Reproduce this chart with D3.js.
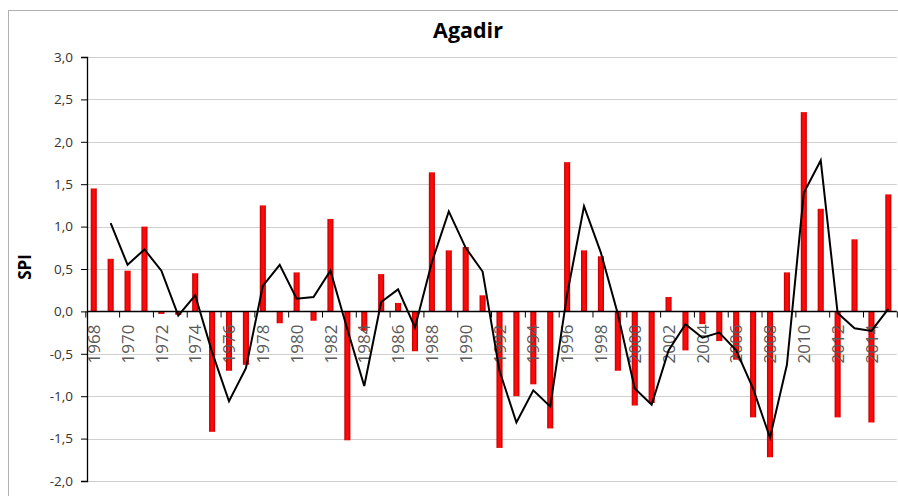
<!DOCTYPE html>
<html>
<head>
<meta charset="utf-8">
<script src="https://cdn.jsdelivr.net/npm/d3@7"></script>
<style>
  html, body { margin: 0; padding: 0; background: #fff; }
  svg { display: block; }
</style>
</head>
<body>
<svg id="chart" width="898" height="496"></svg>
<script>
// ---- data ----
const years = [1968,1969,1970,1971,1972,1973,1974,1975,1976,1977,
               1978,1979,1980,1981,1982,1983,1984,1985,1986,1987,
               1988,1989,1990,1991,1992,1993,1994,1995,1996,1997,
               1998,1999,2000,2001,2002,2003,2004,2005,2006,2007,
               2008,2009,2010,2011,2012,2013,2014,2015];
const spi = [1.45,0.62,0.48,1.00,-0.03,-0.04,0.45,-1.42,-0.70,-0.63,
             1.25,-0.14,0.46,-0.11,1.09,-1.52,-0.23,0.44,0.10,-0.47,
             1.64,0.72,0.76,0.19,-1.61,-1.00,-0.86,-1.38,1.76,0.72,
             0.65,-0.70,-1.11,-1.08,0.17,-0.46,-0.15,-0.35,-0.57,-1.25,
             -1.72,0.46,2.35,1.21,-1.25,0.85,-1.31,1.38];
// trend line (2-period moving average)
const trendYears = [1969,1970,1971,1972,1973,1974,1975,1976,1977,1978,
                    1979,1980,1981,1982,1983,1984,1985,1986,1987,1988,
                    1989,1990,1991,1992,1993,1994,1995,1996,1997,1998,
                    1999,2000,2001,2002,2003,2004,2005,2006,2007,2008,
                    2009,2010,2011,2012,2013,2014,2015];
const trend = [1.04,0.55,0.73,0.48,-0.05,0.19,-0.48,-1.06,-0.67,0.30,
               0.55,0.15,0.17,0.48,-0.21,-0.88,0.11,0.26,-0.19,0.58,
               1.18,0.75,0.47,-0.70,-1.31,-0.93,-1.12,0.20,1.24,0.69,
               -0.03,-0.91,-1.10,-0.46,-0.15,-0.31,-0.25,-0.46,-0.91,-1.49,
               -0.63,1.40,1.78,-0.02,-0.20,-0.23,0.03];
const yTicks = [-2.0,-1.5,-1.0,-0.5,0.0,0.5,1.0,1.5,2.0,2.5,3.0];
const xTickLabels = [1968,1970,1972,1974,1976,1978,1980,1982,1984,1986,1988,1990,
                     1992,1994,1996,1998,2000,2002,2004,2006,2008,2010,2012,2014];
const title = "Agadir";
const yTitle = "SPI";

// ---- layout ----
const svg = d3.select("#chart");
const plotLeft = 87, plotRight = 896.8, plotTop = 57, plotBottom = 481;

const x = d3.scaleBand().domain(years).range([85.3, 896.8])
  .paddingInner(0.64).paddingOuter(0.32);
const y = d3.scaleLinear().domain([-2, 3]).range([plotBottom, plotTop]);
const cx = d => x(d) + x.bandwidth() / 2;

// outer chart border
svg.append("rect").attr("x", 8.5).attr("y", 10.5).attr("width", 1000).attr("height", 1000)
  .attr("fill", "none").attr("stroke", "#b0b0b0").attr("stroke-width", 1);

// gradient for bars
const defs = svg.append("defs");
const grad = defs.append("linearGradient").attr("id", "barGrad")
  .attr("x1", "0%").attr("x2", "100%").attr("y1", "0%").attr("y2", "0%");
grad.append("stop").attr("offset", "0%").attr("stop-color", "#b80000");
grad.append("stop").attr("offset", "35%").attr("stop-color", "#ff0a0a");
grad.append("stop").attr("offset", "65%").attr("stop-color", "#ff0a0a");
grad.append("stop").attr("offset", "100%").attr("stop-color", "#b80000");

// gridlines
svg.append("g").selectAll("line").data(yTicks.filter(v => v !== 0)).join("line")
  .attr("x1", plotLeft).attr("x2", plotRight)
  .attr("y1", d => Math.round(y(d)) + 0.5).attr("y2", d => Math.round(y(d)) + 0.5)
  .attr("stroke", "#cfcfcf").attr("stroke-width", 1.2);

// y axis
const yAxis = d3.axisLeft(y).tickValues(yTicks).tickSize(6).tickPadding(8)
  .tickFormat(d => d3.format(".1f")(d).replace(".", ",").replace("−", "-"));
const gy = svg.append("g").attr("transform", `translate(${plotLeft},0)`).call(yAxis);
gy.select(".domain").attr("stroke", "#000").attr("stroke-width", 1.3);
gy.selectAll(".tick line").attr("stroke", "#000");
gy.selectAll(".tick text").attr("font-family", "'Open Sans', sans-serif")
  .attr("font-size", "13.5px").attr("fill", "#333");

// bars
svg.append("g").selectAll("rect").data(years).join("rect")
  .attr("x", d => x(d))
  .attr("width", x.bandwidth())
  .attr("y", (d, i) => y(Math.max(0, spi[i])))
  .attr("height", (d, i) => Math.abs(y(spi[i]) - y(0)))
  .attr("fill", "url(#barGrad)");

// x axis line at 0
const zeroY = Math.round(y(0)) + 0.5;
svg.append("line").attr("x1", plotLeft).attr("x2", plotRight)
  .attr("y1", zeroY).attr("y2", zeroY).attr("stroke", "#000").attr("stroke-width", 1.3);

// x tick marks every 2 categories (at band boundaries)
const step = x.step();
const boundaryIdx = d3.range(0, years.length + 1, 2);
svg.append("g").selectAll("line").data(boundaryIdx).join("line")
  .attr("x1", i => 85.3 + i * step + 0.5).attr("x2", i => 85.3 + i * step + 0.5)
  .attr("y1", zeroY).attr("y2", zeroY + 6)
  .attr("stroke", "#000").attr("stroke-width", 1);

// x labels (rotated)
svg.append("g").selectAll("text").data(xTickLabels).join("text")
  .attr("transform", d => `translate(${cx(d)},${zeroY + 13}) rotate(-90)`)
  .attr("text-anchor", "end").attr("dy", "0.36em")
  .attr("font-family", "'Open Sans', sans-serif").attr("font-size", "17px")
  .attr("fill", "#5a5a5a")
  .text(d => d);

// trend line
const line = d3.line().x(d => cx(d[0])).y(d => y(d[1]));
svg.append("path").datum(trendYears.map((yr, i) => [yr, trend[i]]))
  .attr("d", line).attr("fill", "none").attr("stroke", "#000").attr("stroke-width", 2)
  .attr("stroke-linejoin", "miter");

// title
svg.append("text").attr("x", 468).attr("y", 38).attr("text-anchor", "middle")
  .attr("font-family", "'Open Sans', sans-serif").attr("font-weight", "bold")
  .attr("font-size", "21.5px").attr("fill", "#000").text(title);

// y title
svg.append("text").attr("transform", "translate(25,267) rotate(-90)")
  .attr("text-anchor", "middle").attr("dy", "0.36em")
  .attr("font-family", "'Open Sans', sans-serif").attr("font-weight", "bold")
  .attr("font-size", "17px").attr("fill", "#000").text(yTitle);
</script>
</body>
</html>
